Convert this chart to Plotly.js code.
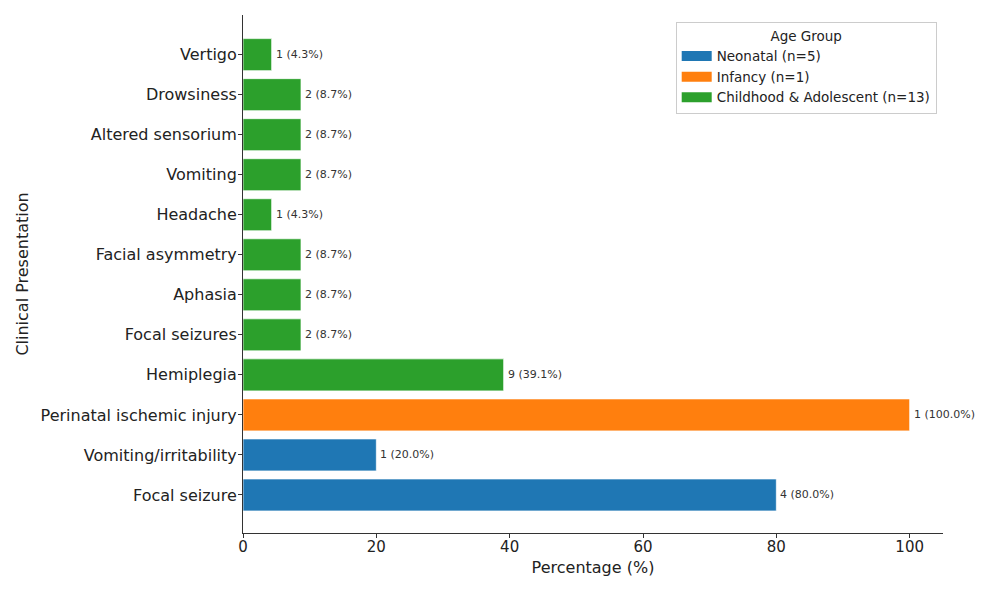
<!DOCTYPE html>
<html>
<head>
<meta charset="utf-8">
<script src="https://cdn.plot.ly/plotly-3.0.1.min.js"></script>
<style>html,body{margin:0;padding:0;background:#fff;}#chart{width:986px;height:592px;}</style>
</head>
<body>
<div id="chart"></div>
<script>
// Categories bottom to top
const categories = ["Focal seizure", "Vomiting/irritability", "Perinatal ischemic injury", "Hemiplegia",
  "Focal seizures", "Aphasia", "Facial asymmetry", "Headache", "Vomiting", "Altered sensorium", "Drowsiness", "Vertigo"];
const groups = ["Neonatal", "Neonatal", "Infancy", "Childhood & Adolescent",
  "Childhood & Adolescent", "Childhood & Adolescent", "Childhood & Adolescent", "Childhood & Adolescent",
  "Childhood & Adolescent", "Childhood & Adolescent", "Childhood & Adolescent", "Childhood & Adolescent"];
const counts = [4, 1, 1, 9, 2, 2, 2, 1, 2, 2, 2, 1];
const percentages = [80.0, 20.0, 100.0, 39.1, 8.7, 8.7, 8.7, 4.3, 8.7, 8.7, 8.7, 4.3];
const groupNames = ["Neonatal", "Infancy", "Childhood & Adolescent"];
const groupLabels = ["Neonatal (n=5)", "Infancy (n=1)", "Childhood & Adolescent (n=13)"];
const groupColors = ["#1f77b4", "#ff7f0e", "#2ca02c"];

const traces = [];
groupNames.forEach((g, gi) => {
  const xs = [], ys = [];
  categories.forEach((c, i) => { if (groups[i] === g) { xs.push(percentages[i]); ys.push(c); } });
  traces.push({
    type: "bar", orientation: "h", x: xs, y: ys, width: 0.8,
    marker: { color: groupColors[gi], line: { color: "rgba(255,255,255,0.7)", width: 1 } },
    showlegend: false, hoverinfo: "x+y"
  });
});
// legend-only entries (wide swatches like the reference)
groupNames.forEach((g, gi) => {
  traces.push({
    type: "scatter", mode: "lines", x: [null], y: [null], name: groupLabels[gi],
    line: { color: groupColors[gi], width: 10 }, showlegend: true, hoverinfo: "skip"
  });
});

const annotations = categories.map((c, i) => ({
  x: percentages[i], y: c, xref: "x", yref: "y",
  text: counts[i] + " (" + percentages[i].toFixed(1) + "%)",
  showarrow: false, xanchor: "left", yanchor: "middle", xshift: 2,
  font: { size: 11, color: "#333", family: "DejaVu Sans" }
}));

const layout = {
  width: 986, height: 592,
  margin: { l: 243, r: 43, t: 15, b: 59 },
  paper_bgcolor: "#fff", plot_bgcolor: "#fff",
  font: { family: "DejaVu Sans", color: "#222" },
  barmode: "relative",
  xaxis: {
    range: [0, 105], tickvals: [0, 20, 40, 60, 80, 100],
    ticks: "outside", ticklen: 4, tickcolor: "#333", tickfont: { size: 15, color: "#222" },
    ticklabelstandoff: -4,
    showline: true, linecolor: "#333", linewidth: 1, showgrid: false, zeroline: false,
    title: { text: "Percentage (%)", font: { size: 16, color: "#222" }, standoff: 6 }
  },
  yaxis: {
    type: "category", categoryorder: "array", categoryarray: categories,
    range: [-0.95, 11.99],
    ticks: "outside", ticklen: 4, tickcolor: "#333", tickfont: { size: 16, color: "#222" },
    ticklabelstandoff: -2,
    showline: true, linecolor: "#333", linewidth: 1, showgrid: false, zeroline: false,
    title: { text: "Clinical Presentation", font: { size: 16, color: "#222" }, standoff: 7 }
  },
  legend: {
    x: 0.991, y: 0.986, xanchor: "right", yanchor: "top",
    bgcolor: "rgba(255,255,255,0.9)", bordercolor: "#ccc", borderwidth: 1,
    font: { size: 13.5, color: "#222" },
    title: { text: "Age Group", side: "top center", font: { size: 13.5, color: "#222" } },
    itemwidth: 30, tracegroupgap: 0, tracegap: 0
  },
  annotations: annotations
};

Plotly.newPlot("chart", traces, layout, { displayModeBar: false, staticPlot: true });
</script>
</body>
</html>
